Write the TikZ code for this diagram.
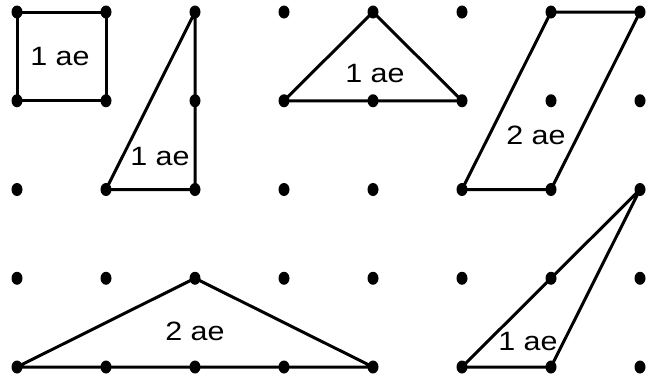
\documentclass[tikz,border=0pt]{standalone}
\usepackage{fontspec}
\setmainfont{Liberation Sans}
\begin{document}
\begin{tikzpicture}[x=1pt,y=-1pt,
  figline/.style={line width=3pt, line join=round},
  lbl/.style={font=\fontsize{26.5}{30}\selectfont, inner sep=0pt}]
\useasboundingbox (0,0) rectangle (653,378);
\foreach \i in {0,...,7} {
  \foreach \j in {0,...,4} {
    \coordinate (p\i\j) at ({17+89*\i},{12+88.75*\j});
  }
}
% figures
\draw[figline] (p00) -- (p10) -- (p11) -- (p01) -- cycle;
\draw[figline] (p20) -- (p22) -- (p12) -- cycle;
\draw[figline] (p31) -- (p40) -- (p51) -- cycle;
\draw[figline] (p60) -- (p70) -- (p62) -- (p52) -- cycle;
\draw[figline] (p04) -- (p23) -- (p44) -- cycle;
\draw[figline] (p54) -- (p72) -- (p64) -- cycle;
% dots
\foreach \i in {0,...,7} {
  \foreach \j in {0,...,4} {
    \fill (p\i\j) ellipse [x radius=5.5pt, y radius=6.5pt];
  }
}
% labels
\node[lbl] (l1) at (60,56.5) {\scalebox{1.15}[1]{1 ae}};
\node[lbl] (l2) at (160,157) {\scalebox{1.15}[1]{1 ae}};
\node[lbl] (l3) at (375,73.5) {\scalebox{1.15}[1]{1 ae}};
\node[lbl] (l4) at (536,135) {\scalebox{1.15}[1]{2 ae}};
\node[lbl] (l5) at (195,331) {\scalebox{1.15}[1]{2 ae}};
\node[lbl] (l6) at (528,342) {\scalebox{1.15}[1]{1 ae}};
\end{tikzpicture}
\end{document}
